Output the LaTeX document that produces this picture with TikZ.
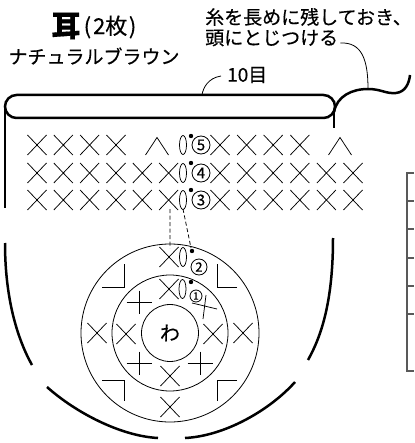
\documentclass[tikz,border=0pt]{standalone}
\usepackage{fontspec}
\setmainfont{Noto Sans CJK JP}[FakeBold=0.4]
\usetikzlibrary{calc}
\tikzset{
%Define line styles
edge line/.style={line width=2.5pt},
thin line/.style={line width=0.8pt},
stitch line/.style={line width=0.75pt},
guide line/.style={line width=0.75pt, dash pattern=on 4pt off 2.5pt},
table line/.style={line width=1.1pt, black!65},
jp text/.style={inner sep=0pt, font=\fontsize{19}{19}\selectfont},
row mark/.style={circle, draw, line width=0.8pt, inner sep=0pt, minimum size=18pt, font=\fontsize{15}{15}\selectfont},
%Define stitch symbols
xst/.pic={\draw[stitch line] (-9.5,-10) -- (9.5,10) (-9.5,10) -- (9.5,-10);},
pst/.pic={\draw[stitch line] (-12.5,0) -- (12.5,0) (0,-11.5) -- (0,11.5);},
dec/.pic={\draw[stitch line] (-11.5,9) -- (0,-8.5) -- (11.5,9);},
ch/.pic={\draw[stitch line] (0,0) ellipse [x radius=3.5, y radius=9.5];},
}

\begin{document}
\begin{tikzpicture}[x=1pt, y=-1pt]
    \useasboundingbox (0,0) rectangle (414,443);
    % Labels
    \node[inner sep=0pt, font=\fontsize{29}{29}\selectfont\bfseries] (ear) at (66,26) {耳};
    \node[inner sep=0pt, font=\fontsize{22}{22}\selectfont] (pieces) at (110,27) {(\kern2pt2枚\kern1.5pt)};
    \node[jp text] (yarn) at (94,56) {ナチュラルブラウン};
    \node[jp text, anchor=west] (note1) at (205,17) {糸を長めに残しておき、};
    \node[jp text, anchor=west] (note2) at (205,38) {頭にとじつける};
    \node[jp text, anchor=west] (count) at (227,75) {10目};

    % Let us define some coordinates
    \path
    coordinate (rim) at (202,95)
    coordinate (thread) at (368,89)
    coordinate (top3) at (170,209)
    coordinate (ch3) at (183,209)
    coordinate (top2) at (170,248)
    coordinate (dot2) at (191,248);

    % Outline of the ear
    \draw[edge line, rounded corners=11.5pt] (5,95) rectangle (335,118);
    \draw[edge line] (5,107) -- (5,208) (334,110) -- (334,128);
    \draw[edge line] (5,243) .. controls (5,300) and (18,340) .. (32,365);
    \draw[edge line] (47,387) .. controls (75,412) and (120,436) .. (158,438);
    \draw[edge line] (185,438) .. controls (225,436) and (270,410) .. (295,382);
    \draw[edge line] (333,238) .. controls (333,300) and (322,335) .. (308,360);
    % Yarn end
    \draw[edge line] (334,112) .. controls (337,96) and (352,89) .. (thread)
      .. controls (381,89) and (386,94) .. (396,93)
      .. controls (405,92) and (409,84) .. (410,75);
    % Leaders
    \draw[thin line] ($(count.west)+(-6,1)$) .. controls (208,78) and (203,88) .. (rim);
    \draw[thin line] ($(note2.east)+(2,5)$) .. controls (362,42) and (368,60) .. (thread);

    % Rows 3 and 4
    \foreach \y/\n in {200/3, 173/4} {
      \foreach \x in {37,63.3,89.6,116,142.3,168.6,220,246.6,273.2,299.8,326.4,353}
        \pic at (\x,\y) {xst};
      \pic at (183,\y) {ch};
      \fill ({191},{\y-10}) circle (2.2);
      \node[row mark] (r\n) at (201,\y) {\n};
    }
    % Row 5
    \foreach \x in {37,63.3,89.6,116,220,246.6,273.2,299.8}
      \pic at (\x,145) {xst};
    \pic at (157,146) {dec};
    \pic at (340,146) {dec};
    \pic at (183,145) {ch};
    \fill (191,136) circle (2.2);
    \node[row mark] (r5) at (201,145) {5};

    % Rounds
    \draw[thin line] (170,333) circle (28.5) circle (58) circle (89);
    \node[font=\fontsize{20}{20}\selectfont] (wa) at (170,333) {わ};
    % Round 1
    \pic at (169,289) {xst};
    \pic at (182.5,289) {ch};
    \fill (191,282) circle (2.2);
    \node[row mark, minimum size=12pt, font=\fontsize{10}{10}\selectfont] (r1) at (196,296) {1};
    \foreach \x/\y in {139/302, 139/363, 200/363} \pic at (\x,\y) {pst};
    \foreach \x/\y in {126/334, 213/334, 170/376} \pic at (\x,\y) {xst};
    \draw[stitch line] (192,303) -- (217,309) (206,295) -- (203,319);
    % Round 2
    \pic at (169,257) {xst};
    \pic at (183,257) {ch};
    \fill (192,251) circle (2.2);
    \node[row mark, minimum size=16pt, font=\fontsize{13}{13}\selectfont] (r2) at (199,267) {2};
    \foreach \x/\y in {97/333, 243/333, 170/407} \pic at (\x,\y) {xst};
    \draw[stitch line] (102,287) -- (124,287) -- (124,264)
      (237,287) -- (217,287) -- (217,264)
      (102,380) -- (124,380) -- (124,401)
      (237,380) -- (217,380) -- (217,401);
    % Chain guides
    \draw[guide line] (top3) -- (top2) (ch3) -- (dot2);

    % Table at the right edge
    \draw[table line] (414,173) -- (407,173) -- (407,371) -- (414,371);
    \foreach \y in {201,229,258,286,314} \draw[table line] (407,\y) -- (414,\y);
\end{tikzpicture}
\end{document}
